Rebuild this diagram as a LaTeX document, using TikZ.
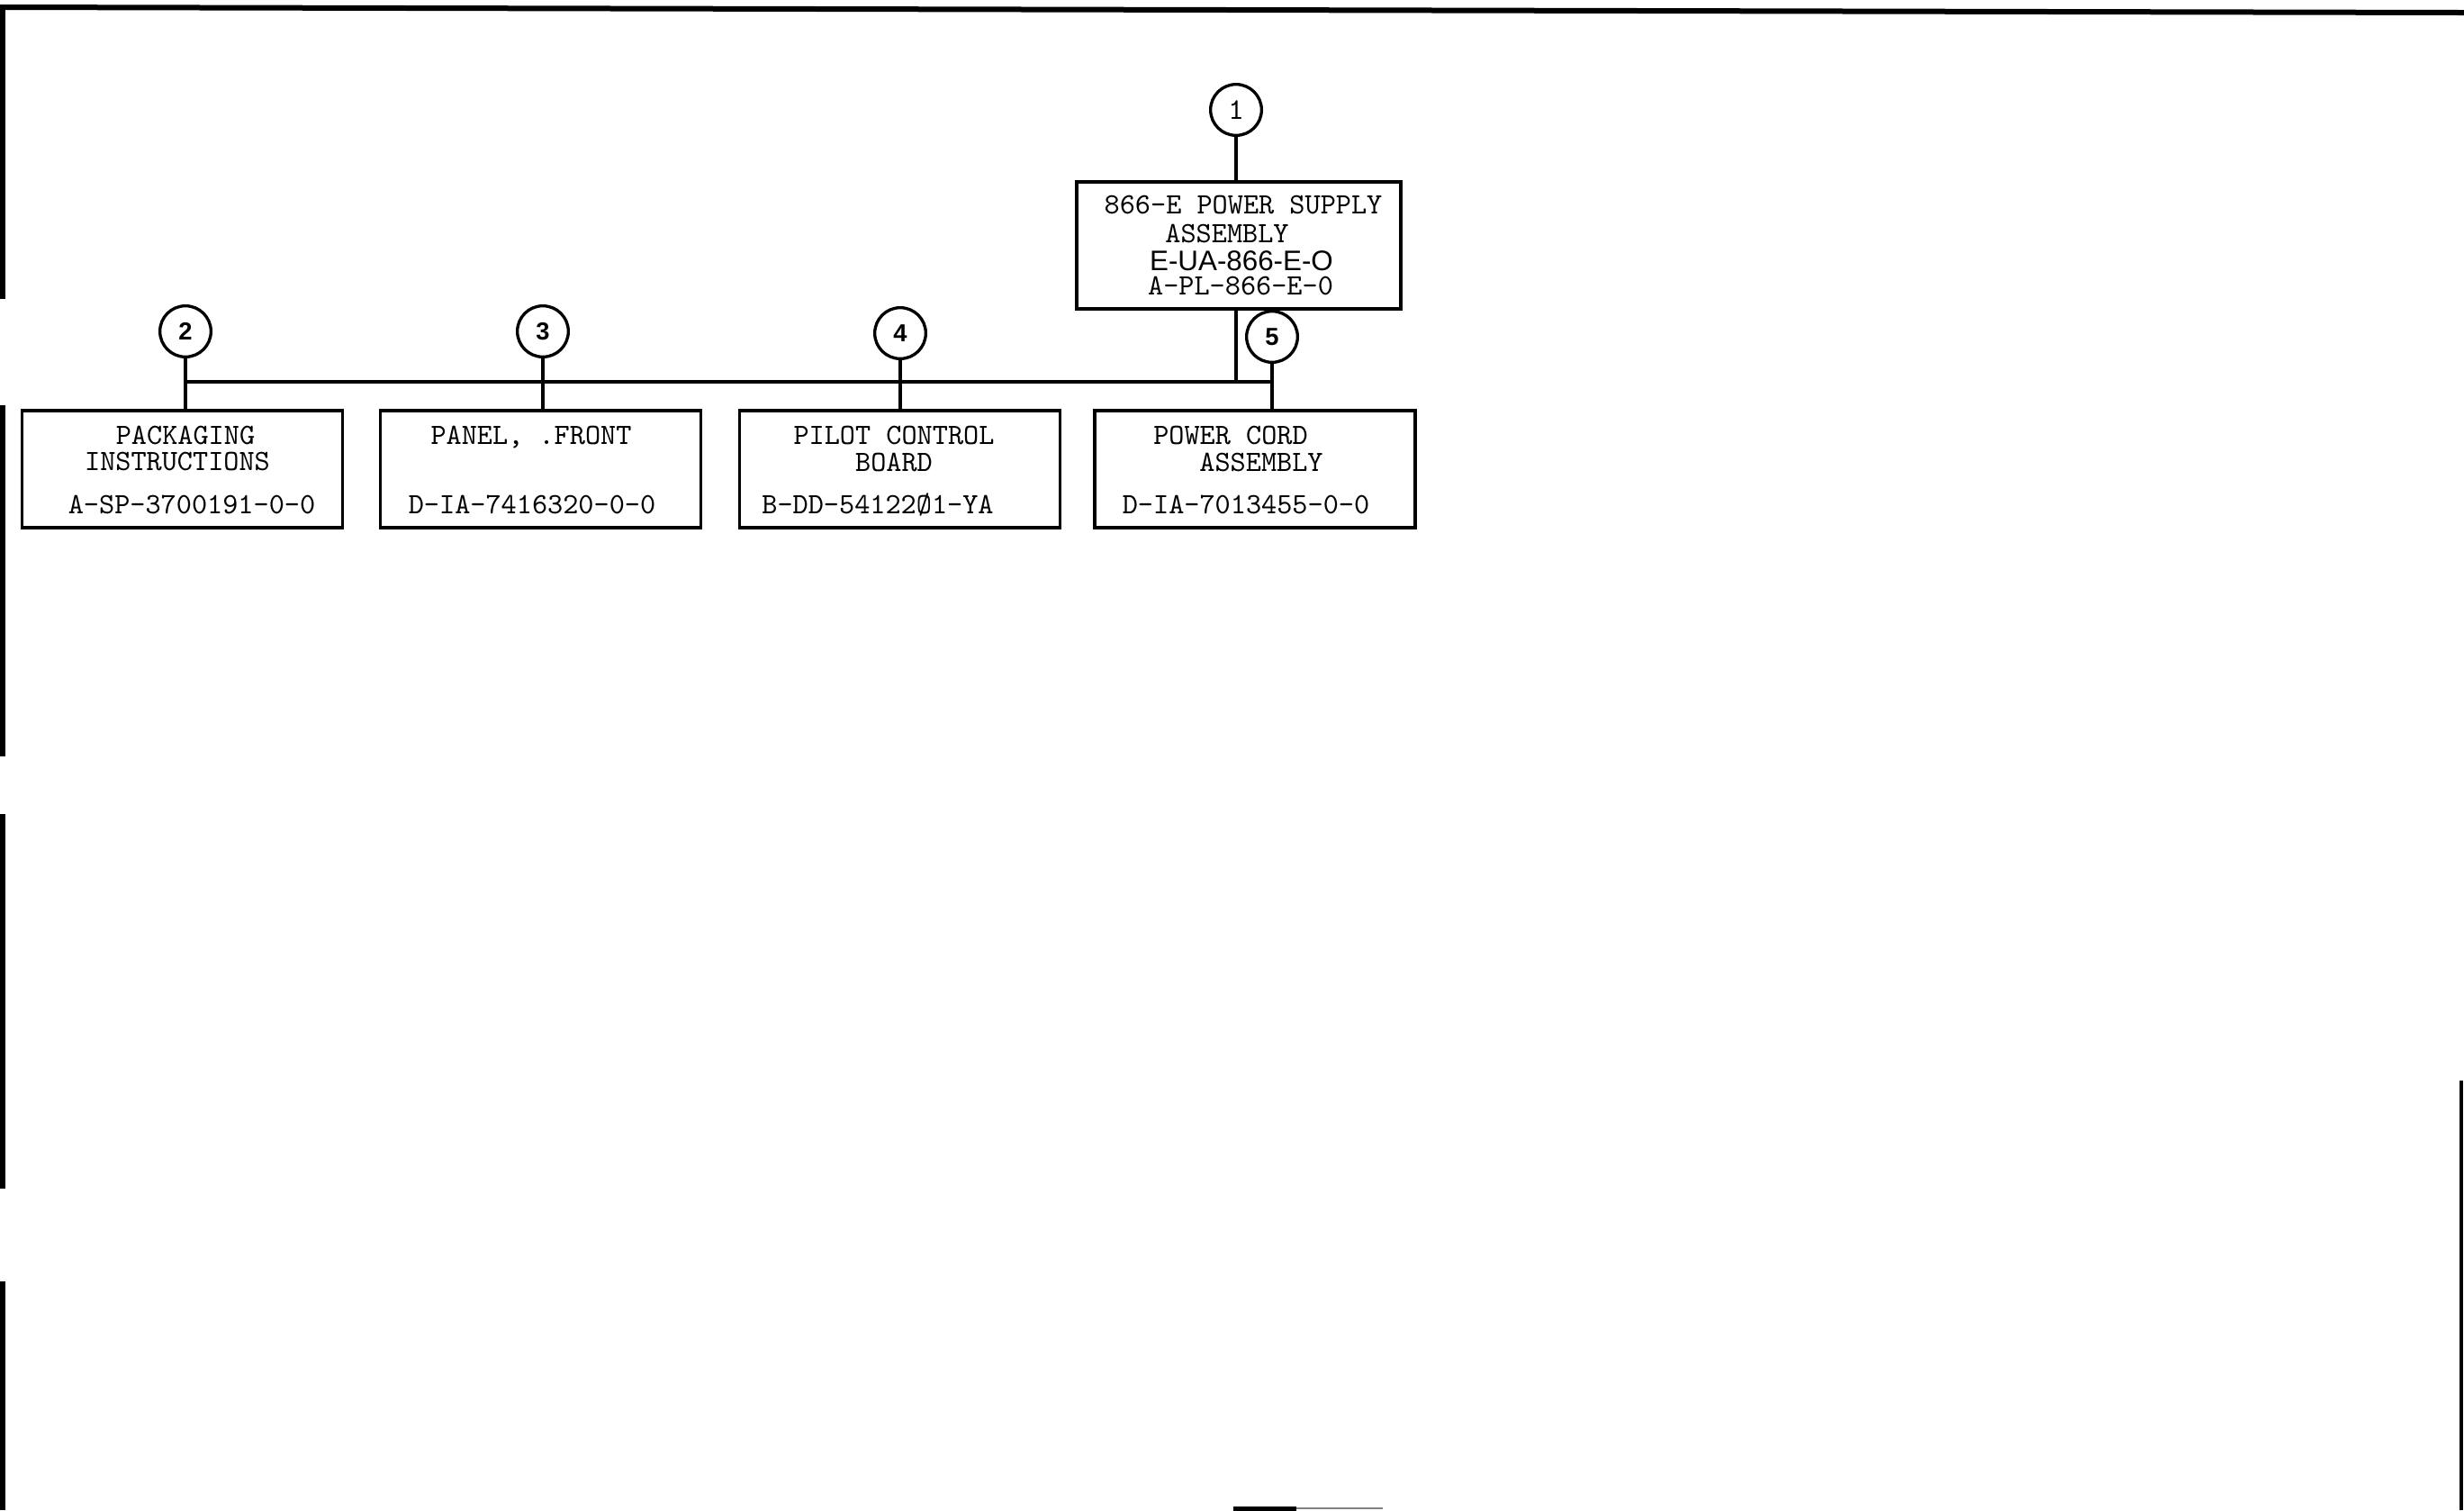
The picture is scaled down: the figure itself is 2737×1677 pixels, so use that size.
\documentclass[tikz,border=0pt]{standalone}
\usepackage{fontspec}
\newfontfamily\lettering{Liberation Sans}
\begin{document}
\begin{tikzpicture}[x=0.3pt,y=-0.3pt,
  partbox/.style={draw, line width=1.1pt, inner sep=0pt, minimum width=106.8pt, minimum height=39pt},
  circ/.style={draw, circle, line width=1pt, inner sep=0pt, minimum size=17pt, font=\lettering\bfseries\fontsize{8.2}{10}\selectfont},
  conn/.style={line width=0.95pt},
  edge/.style={line width=1.6pt},
  txt/.style={anchor=base, inner sep=0pt, font=\ttfamily\fontsize{9.8}{11}\selectfont\addfontfeatures{FakeBold=1.5}},
  lett/.style={anchor=base, inner sep=0pt, font=\lettering\fontsize{9.4}{11}\selectfont}]
\useasboundingbox (0,0) rectangle (2737,1677);

% sheet edges (scan frame)
\draw[line width=1.8pt] (0,8) -- (2737,14);
\draw[edge] (3,9) -- (3,332);
\draw[edge] (3,450) -- (3,840);
\draw[edge] (3,904) -- (3,1320);
\draw[edge] (3,1423) -- (3,1677);
\draw[line width=1.2pt] (2734,1200) -- (2734,1677);
\draw[line width=1.5pt] (1370,1675) -- (1440,1675);
\draw[line width=0.8pt, gray] (1440,1675) -- (1536,1675);

% top assembly
\node[partbox, minimum width=108pt, minimum height=42.3pt] (ps) at (1376,272.5) {};
\node[txt] (ps1) at (1381,237) {866-E POWER SUPPLY};
\node[txt] (ps2) at (1363,269) {ASSEMBLY};
\node[lett] (ps3) at (1379,300) {E-UA-866-E-O};
\node[txt] (ps4) at (1378,327) {A-PL-866-E-0};

\node[circ, font=\ttfamily\fontsize{10}{11}\selectfont\addfontfeatures{FakeBold=1.5}] (c1) at (1373,122) {1};
\node[circ] (c5) at (1413,374) {5};

% parts
\node[partbox] (b1) at (202.5,521) {};
\node[partbox] (b2) at (600.5,521) {};
\node[partbox] (b3) at (999.5,521) {};
\node[partbox] (b4) at (1394,521) {};

\node[circ] (c2) at (206,368) {2};
\node[circ] (c3) at (603,368) {3};
\node[circ] (c4) at (1000,370) {4};

\node[txt] (t11) at (206,493) {PACKAGING};
\node[txt] (t12) at (197,522) {INSTRUCTIONS};
\node[txt] (t13) at (213,570) {A-SP-3700191-0-0};

\node[txt] (t21) at (590,493) {PANEL, .FRONT};
\node[txt] (t23) at (591,570) {D-IA-7416320-0-0};

\node[txt] (t31) at (993,493) {PILOT CONTROL};
\node[txt] (t32) at (993,523) {BOARD};
\node[txt] (t33) at (975,570) {B-DD-54122Ø1-YA};

\node[txt] (t41) at (1367,493) {POWER CORD};
\node[txt] (t42) at (1401,523) {ASSEMBLY};
\node[txt] (t43) at (1384,570) {D-IA-7013455-0-0};

% connectors
\coordinate (bus) at (0,424);
\draw[conn] (c1.south) -- (c1.south |- ps.north);
\draw[conn] (c1.south |- ps.south) -- (c1.south |- bus);
\draw[conn] (c2.south |- bus) -- (c5.south |- bus);
\draw[conn] (c2.south) -- (c2.south |- b1.north);
\draw[conn] (c3.south) -- (c3.south |- b2.north);
\draw[conn] (c4.south) -- (c4.south |- b3.north);
\draw[conn] (c5.south) -- (c5.south |- b4.north);
\end{tikzpicture}
\end{document}
